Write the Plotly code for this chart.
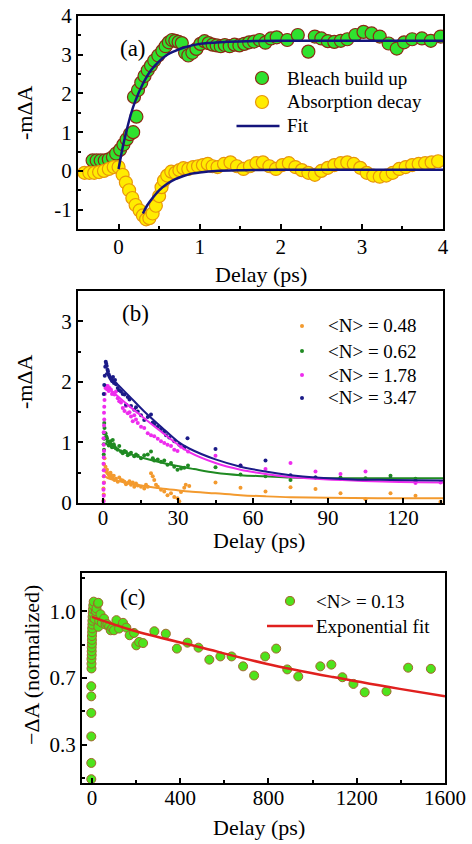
import plotly.graph_objects as go

W, H = 472, 844
FONT = "Liberation Serif"

# ---------------- panel (a): bleach build-up / absorption decay ----------------
bleach_x = [-0.32, -0.27, -0.22, -0.17, -0.12, -0.07, -0.03, 0.02, 0.06, 0.10,
            0.14, 0.18, 0.22, 0.19, 0.24, 0.28, 0.32, 0.36, 0.40, 0.44,
            0.49, 0.54, 0.58, 0.62, 0.66, 0.70, 0.74, 0.78, 0.82, 0.86,
            0.91, 0.96, 1.01, 1.06, 1.11, 1.16, 1.21, 1.26, 1.31, 1.37,
            1.43, 1.49, 1.55, 1.61, 1.67, 1.74, 1.81, 1.88, 1.95, 2.08,
            2.21, 2.34, 2.42, 2.50, 2.58, 2.66, 2.74, 2.82, 2.92, 3.02,
            3.12, 3.22, 3.33, 3.43, 3.52, 3.62, 3.74, 3.85, 3.97]
bleach_y = [0.27, 0.27, 0.27, 0.27, 0.30, 0.36, 0.45, 0.55, 0.68, 0.82,
            0.95, 1.00, 1.40, 1.91, 2.09, 2.28, 2.45, 2.60, 2.72, 2.85,
            2.98, 3.10, 3.22, 3.32, 3.38, 3.36, 3.33, 3.30, 3.05, 2.98,
            3.05, 3.15, 3.28, 3.35, 3.30, 3.26, 3.24, 3.22, 3.25, 3.22,
            3.26, 3.24, 3.28, 3.32, 3.34, 3.38, 3.31, 3.42, 3.45, 3.38,
            3.51, 3.08, 3.47, 3.42, 3.35, 3.33, 3.36, 3.40, 3.51, 3.59,
            3.55, 3.47, 3.29, 3.16, 3.32, 3.40, 3.42, 3.36, 3.47]

absorb_x = [-0.42, -0.36, -0.30, -0.24, -0.18, -0.12, -0.06, 0.00,
            0.05, 0.09, 0.13, 0.17, 0.21, 0.26, 0.30, 0.34, 0.38, 0.42,
            0.46, 0.50, 0.53, 0.56, 0.60, 0.65, 0.70, 0.75, 0.80, 0.86,
            0.92, 0.98, 1.04, 1.10, 1.16, 1.22, 1.30, 1.38, 1.46, 1.54,
            1.62, 1.70, 1.78, 1.86, 1.94, 2.02, 2.10, 2.18, 2.26, 2.34,
            2.42, 2.50, 2.58, 2.66, 2.74, 2.82, 2.90, 2.98, 3.06, 3.14,
            3.22, 3.30, 3.38, 3.46, 3.54, 3.62, 3.70, 3.78, 3.86, 3.94]
absorb_y = [-0.05, -0.05, -0.05, -0.03, 0.00, 0.05, 0.10, 0.10,
            -0.10, -0.30, -0.50, -0.70, -0.88, -1.02, -1.15, -1.25, -1.22, -1.10,
            -0.90, -0.65, -0.42, -0.25, -0.12, -0.02, -0.05, 0.02, 0.07, 0.05,
            0.10, 0.12, 0.15, 0.18, 0.12, 0.10, 0.18, 0.22, 0.12, 0.05,
            0.12, 0.20, 0.22, 0.12, 0.05, 0.15, 0.20, 0.10, 0.02, -0.05,
            -0.10, 0.00, 0.08, 0.15, 0.20, 0.22, 0.18, 0.08, -0.05, -0.12,
            -0.15, -0.12, -0.05, 0.05, 0.10, 0.15, 0.18, 0.20, 0.22, 0.25]

fit_bleach_x = [0.00, 0.05, 0.10, 0.15, 0.20, 0.30, 0.40, 0.50, 0.60, 0.70,
                0.80, 1.00, 1.30, 1.60, 2.00, 3.00, 4.00]
fit_bleach_y = [0.05, 0.60, 1.05, 1.45, 1.77, 2.25, 2.60, 2.83, 3.00, 3.10,
                3.18, 3.28, 3.33, 3.35, 3.36, 3.36, 3.36]
fit_absorb_x = [0.30, 0.35, 0.40, 0.50, 0.60, 0.70, 0.80, 0.90, 1.00, 1.20,
                1.50, 2.00, 4.00]
fit_absorb_y = [-1.10, -0.90, -0.75, -0.50, -0.33, -0.21, -0.13, -0.07, -0.04,
                0.00, 0.02, 0.03, 0.03]

# ---------------- panel (b): decays at different <N> ----------------
n048_x = [0.2, 0.3, 0.2, 0.4, 0.3, 0.5, 0.4, 0.6,
          1.0, 1.3, 1.6, 1.9, 2.3, 2.6, 3.0, 3.3, 3.6, 3.9,
          4.3, 4.6, 5.2, 5.9, 6.5, 7.2, 7.9, 8.6, 9.2, 9.9,
          10.6, 11.2, 11.9, 12.5, 13.2, 13.9, 15.2, 16.5, 17.2, 17.9,
          19.2, 19.9, 20.5, 21.2, 21.9, 23.2, 24.5, 25.8, 27.2, 28.5,
          29.8, 30.5, 31.2, 32.5, 33.1, 34.5, 45, 55, 65, 75,
          85, 95, 105, 115, 125, 135]
n048_y = [0.04, 0.14, 0.24, 0.34, 0.44, 0.54, 0.64, 0.74,
          0.60, 0.52, 0.55, 0.49, 0.47, 0.44, 0.50, 0.46, 0.42, 0.41,
          0.45, 0.38, 0.40, 0.35, 0.42, 0.38, 0.37, 0.35, 0.31, 0.33,
          0.36, 0.30, 0.34, 0.27, 0.32, 0.29, 0.27, 0.24, 0.30, 0.27,
          0.49, 0.44, 0.38, 0.30, 0.27, 0.22, 0.19, 0.13, 0.16, 0.10,
          0.08, 0.03, 0.18, 0.25, 0.30, 0.28, 0.34, 0.25, 0.19, 0.26,
          0.23, 0.16, 0.06, 0.16, 0.12, 0.02]

n062_x = [0.3, 0.4, 0.3, 0.5, 0.4, 0.6, 0.5,
          1.0, 1.3, 1.6, 1.9, 2.3, 2.6, 3.0, 3.3, 3.6, 3.9,
          4.3, 4.6, 5.2, 5.9, 6.5, 7.2, 7.9, 8.6, 9.2, 9.9,
          10.6, 11.2, 12.5, 13.2, 13.9, 15.2, 16.5, 17.9, 19.2, 19.9,
          20.5, 21.9, 23.2, 24.5, 25.8, 27.2, 28.5, 29.8, 31.2, 32.5,
          34, 45, 55, 65, 75, 85, 95, 105, 115, 125]
n062_y = [0.80, 0.88, 0.97, 1.06, 1.15, 1.24, 1.32,
          1.15, 1.10, 1.07, 1.02, 0.95, 0.99, 1.02, 0.96, 0.92, 1.04,
          0.97, 0.93, 0.90, 0.88, 0.94, 0.85, 0.82, 0.86, 0.84, 0.79,
          0.81, 0.83, 0.77, 0.80, 0.78, 0.74, 0.79, 0.80, 0.85, 0.74,
          0.70, 0.72, 0.68, 0.70, 0.63, 0.66, 0.60, 0.55, 0.57, 0.58,
          0.62, 0.59, 0.47, 0.44, 0.38, 0.42, 0.42, 0.41, 0.45, 0.40]

n178_x = [0.2, 0.3, 0.2, 0.3, 0.4, 0.3, 0.2, 0.3, 0.4, 0.3,
          0.2, 0.3, 0.4, 0.5, 0.4, 0.5, 0.6, 0.7,
          1.0, 1.3, 1.6, 1.9, 2.3, 2.6, 3.2, 3.6, 3.9, 4.6,
          5.2, 5.9, 6.5, 7.2, 7.9, 8.6, 9.2, 9.9, 10.6, 11.2,
          11.9, 12.5, 13.2, 13.9, 15.2, 16.5, 17.9, 19.2, 20.5, 21.9,
          23.2, 24.5, 25.8, 27.2, 28.5, 29.8, 31.2, 32.5, 34.0, 45,
          55, 65, 75, 85, 95, 105, 115, 125, 135]
n178_y = [0.03, 0.12, 0.22, 0.33, 0.44, 0.54, 0.65, 0.75, 0.86, 0.96,
          1.07, 1.17, 1.28, 1.38, 1.49, 1.59, 1.70, 1.80,
          1.90, 1.93, 1.88, 1.93, 1.85, 1.90, 1.87, 1.80, 1.82, 1.79,
          1.84, 1.73, 1.68, 1.66, 1.57, 1.52, 1.60, 1.48, 1.50, 1.43,
          1.35, 1.45, 1.38, 1.32, 1.26, 1.24, 1.15, 1.12, 1.10, 1.06,
          1.02, 0.99, 0.96, 0.94, 0.88, 0.86, 0.93, 0.90, 0.85, 0.78,
          0.62, 0.56, 0.66, 0.52, 0.48, 0.52, 0.40, 0.33, 0.34]

n347_x = [0.3, 0.5, 0.7, 0.9, 1.1, 1.3, 1.5, 1.8, 2.0, 2.3,
          2.6, 3.0, 3.3, 3.7, 4.0, 4.4, 4.8, 5.2, 5.9, 6.5,
          7.2, 7.9, 8.6, 9.2, 9.9, 10.6, 11.2, 12.5, 13.2, 13.9,
          15.2, 16.5, 17.9, 19.2, 19.9, 20.5, 21.9, 23.2, 24.5, 25.2,
          26.5, 28.5, 30.5, 32.5, 33.8, 45, 55, 65, 75, 85,
          95, 105, 115, 125]
n347_y = [1.80, 1.95, 2.10, 2.25, 2.33, 2.30, 2.26, 2.20, 2.17, 2.12,
          2.09, 2.06, 2.04, 2.01, 2.08, 1.98, 2.03, 1.96, 1.90, 1.86,
          1.84, 1.80, 1.79, 1.62, 1.75, 1.71, 1.60, 1.54, 1.58, 1.51,
          1.45, 1.37, 1.42, 1.46, 1.33, 1.30, 1.26, 1.22, 1.18, 1.12,
          1.08, 1.02, 0.96, 0.92, 1.07, 0.89, 0.62, 0.70, 0.46, 0.42,
          0.40, 0.38, 0.40, 0.36]

fit048_x = [1, 1.9, 9.9, 16.5, 23.2, 29.8, 34.5, 45, 55, 65, 75, 90, 110, 136]
fit048_y = [0.44, 0.41, 0.33, 0.28, 0.24, 0.21, 0.19, 0.16, 0.13, 0.11, 0.095, 0.085, 0.08, 0.08]
fit062_x = [1, 1.9, 9.9, 16.5, 23.2, 29.8, 36.4, 45, 55, 65, 75, 90, 110, 136]
fit062_y = [1.00, 0.96, 0.82, 0.74, 0.67, 0.61, 0.56, 0.50, 0.46, 0.44, 0.42, 0.41, 0.41, 0.41]
fit178_x = [1, 1.9, 9.9, 16.5, 23.2, 29.8, 34.5, 45, 55, 65, 75, 85, 100, 115, 136]
fit178_y = [1.92, 1.90, 1.62, 1.40, 1.18, 0.97, 0.84, 0.66, 0.55, 0.48, 0.43, 0.40, 0.37, 0.35, 0.34]
fit347_x = [1, 3.3, 9.9, 16.5, 23.2, 29.8, 34.5, 45, 55, 65, 75, 85, 100, 115, 136]
fit347_y = [2.15, 2.06, 1.79, 1.51, 1.26, 1.02, 0.90, 0.72, 0.60, 0.52, 0.46, 0.42, 0.39, 0.38, 0.37]

# ---------------- panel (c): long-time decay at <N> = 0.13 ----------------
n013_x = [-3, -3, -3, -3, -3, -3, -2, -2, -2, -1, -1, -1, 0, 0, 0, 1, 1, 2, 2, 3,
          4, 5, 6, 8,
          12, 18, 21, 27, 29, 29, 33, 39, 45, 55, 62, 70, 78, 85, 92, 100,
          111, 123, 141, 156, 171, 191, 201, 214, 232, 283, 335, 385, 433, 483,
          532, 582, 633, 685, 735, 785, 835, 885, 935, 1035, 1085, 1135, 1185,
          1236, 1335, 1433, 1536]
n013_y = [0.12, 0.205, 0.344, 0.467, 0.554, 0.607, 0.70, 0.725, 0.75, 0.77, 0.79,
          0.81, 0.83, 0.85, 0.87, 0.89, 0.91, 0.93, 0.95, 0.97,
          0.99, 1.01, 1.03, 1.05,
          0.96, 1.00, 1.014, 1.04, 1.044, 0.918, 0.95, 0.984, 0.94, 0.961, 0.93,
          0.932, 0.92, 0.90, 0.91, 0.90,
          0.953, 0.909, 0.939, 0.914, 0.874, 0.886, 0.821, 0.839, 0.833, 0.895,
          0.882, 0.804, 0.835, 0.809,
          0.746, 0.763, 0.763, 0.711, 0.663, 0.763, 0.804, 0.695, 0.658, 0.711,
          0.720, 0.654, 0.619, 0.575, 0.580, 0.704, 0.698]
fit013_x = [0, 183, 486, 789, 1092, 1395, 1600]
fit013_y = [0.97, 0.90, 0.812, 0.725, 0.655, 0.593, 0.554]

# tick labels
a_xticks, a_xtext = [0, 1, 2, 3, 4], ["0", "1", "2", "3", "4"]
a_yticks, a_ytext = [-1, 0, 1, 2, 3, 4], ["-1", "0", "1", "2", "3", "4"]
b_xticks, b_xtext = [0, 30, 60, 90, 120], ["0", "30", "60", "90", "120"]
b_yticks, b_ytext = [0, 1, 2, 3], ["0", "1", "2", "3"]
c_xticks, c_xtext = [0, 400, 800, 1200, 1600], ["0", "400", "800", "1200", "1600"]
c_yticks, c_ytext = [0.3, 0.65, 1.0], ["0.3", "0.7", "1.0"]

# colours
GREEN_A, GREEN_A_EDGE = "#2fe22f", "#8b2a14"
YELLOW_A, YELLOW_A_EDGE = "#ffec00", "#e8960a"
NAVY = "#14147c"
C048, C062, C178, C347 = "#f39a2e", "#1f8a22", "#ee2cee", "#1b1b88"
GREEN_C, GREEN_C_EDGE = "#4ee31c", "#a2662c"
RED = "#e0201e"


def px_x(p):
    return p / W


def px_y(p):
    return 1 - p / H


fig = go.Figure()

# (a)
fig.add_trace(go.Scatter(x=bleach_x, y=bleach_y, mode="markers", name="Bleach build up",
                         marker=dict(size=13, color=GREEN_A, line=dict(color=GREEN_A_EDGE, width=1.2)),
                         xaxis="x", yaxis="y"))
fig.add_trace(go.Scatter(x=absorb_x, y=absorb_y, mode="markers", name="Absorption decay",
                         marker=dict(size=13, color=YELLOW_A, line=dict(color=YELLOW_A_EDGE, width=1.2)),
                         xaxis="x", yaxis="y"))
fig.add_trace(go.Scatter(x=fit_bleach_x, y=fit_bleach_y, mode="lines", name="Fit",
                         line=dict(color=NAVY, width=2.5, shape="spline"),
                         xaxis="x", yaxis="y"))
fig.add_trace(go.Scatter(x=fit_absorb_x, y=fit_absorb_y, mode="lines", name="Fit",
                         line=dict(color=NAVY, width=2.5, shape="spline"),
                         xaxis="x", yaxis="y"))

# (b)
series_b = [
    ("&lt;N&gt; = 0.48", n048_x, n048_y, fit048_x, fit048_y, C048),
    ("&lt;N&gt; = 0.62", n062_x, n062_y, fit062_x, fit062_y, C062),
    ("&lt;N&gt; = 1.78", n178_x, n178_y, fit178_x, fit178_y, C178),
    ("&lt;N&gt; = 3.47", n347_x, n347_y, fit347_x, fit347_y, C347),
]
for name, sx, sy, fx, fy, col in series_b:
    fig.add_trace(go.Scatter(x=sx, y=sy, mode="markers", name=name,
                             marker=dict(size=4, color=col),
                             xaxis="x2", yaxis="y2"))
for name, sx, sy, fx, fy, col in series_b:
    fig.add_trace(go.Scatter(x=fx, y=fy, mode="lines", name=name,
                             line=dict(color=col, width=2, shape="spline"),
                             xaxis="x2", yaxis="y2"))

# (c)
fig.add_trace(go.Scatter(x=n013_x, y=n013_y, mode="markers", name="&lt;N&gt; = 0.13",
                         marker=dict(size=9, color=GREEN_C, line=dict(color=GREEN_C_EDGE, width=1)),
                         xaxis="x3", yaxis="y3"))
fig.add_trace(go.Scatter(x=fit013_x, y=fit013_y, mode="lines", name="Exponential fit",
                         line=dict(color=RED, width=2.5, shape="spline"),
                         xaxis="x3", yaxis="y3"))

tickfont = dict(family=FONT, size=21, color="black")
axis_common = dict(showline=True, mirror=True, linecolor="black", linewidth=2,
                   ticks="inside", ticklen=5, tickwidth=1.5, tickcolor="black",
                   showgrid=False, zeroline=False, tickfont=tickfont, tickmode="array",
                   automargin=False)


def axis(domain, rng, tv, tt, minor, anchor, standoff=0):
    d = dict(axis_common)
    d.update(domain=domain, range=rng, tickvals=tv, ticktext=tt, anchor=anchor,
             ticklabelstandoff=standoff,
             minor=dict(ticks="inside", ticklen=3, tickwidth=1.5, tickcolor="black",
                        tickvals=minor, showgrid=False))
    return d


xa_dom = [px_x(78), px_x(443)]
xc_dom = [px_x(82), px_x(445)]

fig.update_layout(
    template="none",
    width=W, height=H, margin=dict(l=0, r=0, t=0, b=0, autoexpand=False),
    paper_bgcolor="white", plot_bgcolor="white",
    font=dict(family=FONT, color="black"),
    showlegend=False,
    xaxis=axis(xa_dom, [-0.5, 4], a_xticks, a_xtext, [-0.5, 0.5, 1.5, 2.5, 3.5], "y", -2),
    yaxis=axis([px_y(229), px_y(16)], [-1.5, 4], a_yticks, a_ytext,
               [-1.5, -0.5, 0.5, 1.5, 2.5, 3.5], "x"),
    xaxis2=axis(xa_dom, [-10, 136], b_xticks, b_xtext, [15, 45, 75, 105, 135], "y2", -5),
    yaxis2=axis([px_y(503), px_y(291)], [0, 3.5], b_yticks, b_ytext,
                [0.5, 1.5, 2.5, 3.5], "x2"),
    xaxis3=axis(xc_dom, [-45, 1600], c_xticks, c_xtext, [200, 600, 1000, 1400], "y3", -5),
    yaxis3=axis([px_y(783), px_y(573)], [0.1, 1.2], c_yticks, c_ytext,
                [0.125, 0.475, 0.825, 1.175], "x3"),
)

# legend keys: (label, symbol kind, colour, edge colour, symbol size, symbol x, text x, y)
legend_a = [
    ("Bleach build up", "circle", GREEN_A, GREEN_A_EDGE, 13, 262, 285, 78),
    ("Absorption decay", "circle", YELLOW_A, YELLOW_A_EDGE, 13, 262, 285, 102),
    ("Fit", "line", NAVY, NAVY, 43, 258, 285, 126),
]
legend_b = [
    ("&lt;N&gt; = 0.48", "circle", C048, C048, 4, 302, 326, 326),
    ("&lt;N&gt; = 0.62", "circle", C062, C062, 4, 302, 326, 351),
    ("&lt;N&gt; = 1.78", "circle", C178, C178, 4, 302, 326, 375),
    ("&lt;N&gt; = 3.47", "circle", C347, C347, 4, 302, 326, 398),
]
legend_c = [
    ("&lt;N&gt; = 0.13", "circle", GREEN_C, GREEN_C_EDGE, 9, 290, 314, 601),
    ("Exponential fit", "line", RED, RED, 46, 290, 314, 626),
]
legend_font = dict(family=FONT, size=19, color="black")
for label, kind, col, edge, size, sx, tx, y in legend_a + legend_b + legend_c:
    if kind == "circle":
        r = size / 2
        fig.add_shape(type="circle", xref="paper", yref="paper",
                      x0=px_x(sx - r), x1=px_x(sx + r), y0=px_y(y + r), y1=px_y(y - r),
                      fillcolor=col, line=dict(color=edge, width=1.2 if size > 5 else 0))
    else:
        fig.add_shape(type="line", xref="paper", yref="paper",
                      x0=px_x(sx - size / 2), x1=px_x(sx + size / 2), y0=px_y(y), y1=px_y(y),
                      line=dict(color=col, width=2.5))
    fig.add_annotation(text=label, x=px_x(tx), y=px_y(y), xref="paper", yref="paper",
                       showarrow=False, font=legend_font, xanchor="left", yanchor="middle")

title_font = dict(family=FONT, size=22, color="black")
label_font = dict(family=FONT, size=23, color="black")
annots = [
    ("Delay (ps)", 261, 274, 0, title_font),
    ("-mΔA", 25, 113, -90, title_font),
    ("(a)", 133, 48, 0, label_font),
    ("Delay (ps)", 259, 540, 0, title_font),
    ("-mΔA", 25, 382, -90, title_font),
    ("(b)", 135, 313, 0, label_font),
    ("Delay (ps)", 259, 827, 0, title_font),
    ("−ΔA (normalized)", 31, 665, -90, title_font),
    ("(c)", 133, 597, 0, label_font),
]
for text, x, y, ang, f in annots:
    fig.add_annotation(text=text, x=px_x(x), y=px_y(y), xref="paper", yref="paper",
                       showarrow=False, textangle=ang, font=f,
                       xanchor="center", yanchor="middle")

fig.write_html("out.html")
